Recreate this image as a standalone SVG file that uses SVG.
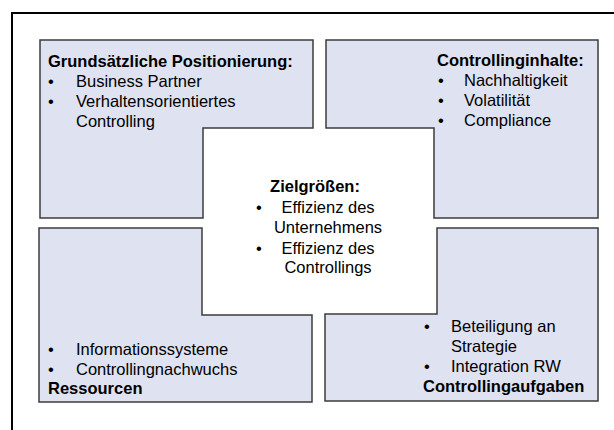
<svg xmlns="http://www.w3.org/2000/svg" width="614" height="430" viewBox="0 0 614 430">
<style>
.shape{fill:#dfe2f0;stroke:#3c3c3c;stroke-width:1.5;}
text{font-family:"Liberation Sans",Arial,sans-serif;font-size:16.5px;fill:#000;}
.b{font-weight:bold;}
.c{text-anchor:middle;}
</style>
<rect x="0" y="0" width="614" height="430" fill="#ffffff"/>
<rect id="frame" x="12" y="13" width="700" height="500" fill="none" stroke="#000" stroke-width="2"/>
<g id="connectors"></g>
<g id="positionierung">
<path class="shape" d="M40,40 H313 V128 H203 V218 H40 Z"/>
<text class="b" x="48" y="67">Grundsätzliche Positionierung:</text>
<text x="48" y="87">•</text><text x="76" y="87">Business Partner</text>
<text x="48" y="107">•</text><text x="76" y="107">Verhaltensorientiertes</text>
<text x="76" y="127">Controlling</text>
</g>
<g id="inhalte">
<path class="shape" d="M326,40 H598 V218 H434 V128 H326 Z"/>
<text class="b" x="437" y="66">Controllinginhalte:</text>
<text x="438" y="86">•</text><text x="464" y="86">Nachhaltigkeit</text>
<text x="438" y="106">•</text><text x="464" y="106">Volatilität</text>
<text x="438" y="126">•</text><text x="464" y="126">Compliance</text>
</g>
<g id="ressourcen">
<path class="shape" d="M39,228 H202 V315 H312 V402 H39 Z"/>
<text x="48" y="355">•</text><text x="76" y="355">Informationssysteme</text>
<text x="48" y="375">•</text><text x="76" y="375">Controllingnachwuchs</text>
<text class="b" x="48" y="394">Ressourcen</text>
</g>
<g id="aufgaben">
<path class="shape" d="M437,228 H598 V401 H325 V314 H437 Z"/>
<text x="424" y="332">•</text><text x="451" y="332">Beteiligung an</text>
<text x="451" y="352">Strategie</text>
<text x="424" y="372">•</text><text x="451" y="372">Integration RW</text>
<text class="b" x="423" y="392">Controllingaufgaben</text>
</g>
<g id="zielgroessen">
<text class="b c" x="315" y="192">Zielgrößen:</text>
<text x="256" y="213">•</text><text class="c" x="328" y="213">Effizienz des</text>
<text class="c" x="328" y="233">Unternehmens</text>
<text x="256" y="254">•</text><text class="c" x="328" y="254">Effizienz des</text>
<text class="c" x="328" y="273">Controllings</text>
</g>
</svg>
